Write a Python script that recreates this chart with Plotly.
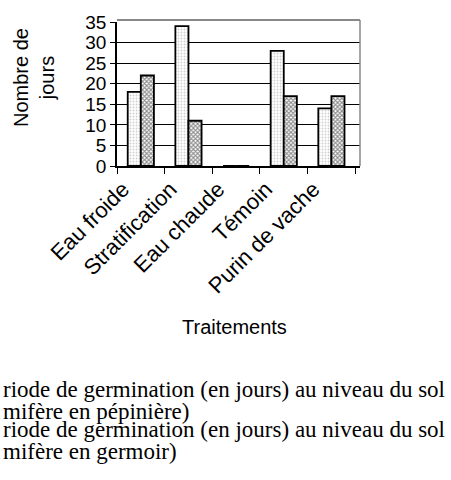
import plotly.graph_objects as go

categories = ["Eau froide", "Stratification", "Eau chaude", "Témoin", "Purin de vache"]
pepiniere = [18, 34, 0, 28, 14]
germoir = [22, 11, 0, 17, 17]
y_ticks = [0, 5, 10, 15, 20, 25, 30, 35]
legend_lines = [
    "riode de germination (en jours) au niveau du sol",
    "mifère en pépinière)",
    "riode de germination (en jours) au niveau du sol",
    "mifère en germoir)",
]

fig = go.Figure()
fig.add_trace(go.Bar(
    x=categories, y=pepiniere, name="pépinière",
    marker=dict(color="white", line=dict(color="black", width=1.8),
                pattern=dict(shape=".", fgcolor="#a0a0a0", bgcolor="white", size=3, solidity=0.3)),
))
fig.add_trace(go.Bar(
    x=categories, y=germoir, name="germoir",
    marker=dict(color="white", line=dict(color="black", width=1.8),
                pattern=dict(shape="x", fgcolor="#1a1a1a", bgcolor="white", size=3, solidity=0.6)),
))

L, R, T, B = 117, 91, 22, 314
W, H = 451, 480
pw = W - L - R
ph = H - T - B


def px(x):
    return (x - L) / pw


def py(y):
    return 1 - (y - T) / ph


fig.update_layout(
    width=W, height=H,
    margin=dict(l=L, r=R, t=T, b=B, pad=0, autoexpand=False),
    paper_bgcolor="white", plot_bgcolor="white",
    showlegend=False,
    barmode="group", bargap=0.45, bargroupgap=0.0,
    font=dict(family="Liberation Sans, Arial", color="black", size=16),
)
fig.update_yaxes(
    range=[0, 35], tickvals=y_ticks, showgrid=True, gridcolor="black", gridwidth=1,
    showline=True, linecolor="black", linewidth=1.5, ticks="outside", ticklen=5,
    tickcolor="black", tickfont=dict(size=19), zeroline=False, automargin=False,
)
fig.update_xaxes(
    range=[-0.5, 4.6], showline=True, linecolor="black", linewidth=1.5,
    ticks="outside", ticklen=6, tickcolor="black", tickson="boundaries",
    tickangle=-45, tickfont=dict(size=22), automargin=False, ticklabelshift=-18,
)
# back wall edges (grey) on top and right
fig.add_shape(type="line", xref="paper", yref="paper", x0=0, x1=1, y0=py(20), y1=py(20),
              line=dict(color="#888888", width=2))
fig.add_shape(type="line", xref="paper", yref="paper", x0=1, x1=1, y0=0, y1=py(20),
              line=dict(color="#888888", width=1.5))

# axis titles
fig.add_annotation(text="Nombre de<br>jours", xref="paper", yref="paper",
                   x=px(34), y=py(78), textangle=-90, showarrow=False,
                   xanchor="center", yanchor="middle", font=dict(size=20))
fig.add_annotation(text="Traitements", xref="paper", yref="paper",
                   x=px(234), y=py(327), showarrow=False,
                   xanchor="center", yanchor="middle", font=dict(size=20))

ys = [389, 411, 429, 451]
for txt, yp in zip(legend_lines, ys):
    fig.add_annotation(
        text=txt, xref="paper", yref="paper",
        x=px(1), y=py(yp),
        xanchor="left", yanchor="middle", showarrow=False,
        font=dict(family="Liberation Serif, Times New Roman", size=23, color="black"),
    )

fig.write_html("out.html", config={"displayModeBar": False},
               post_script="document.body.style.margin='0';")
